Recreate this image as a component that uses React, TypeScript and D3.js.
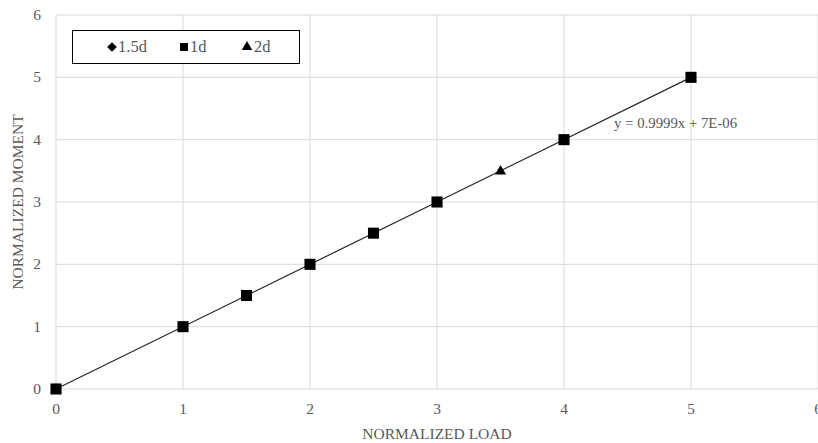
import { useMemo } from "react";
import * as d3 from "d3";

const W = 818;
const H = 443;
const MARGIN = { top: 15, right: 0, bottom: 54, left: 56 };

const X_TICKS = [0, 1, 2, 3, 4, 5, 6];
const Y_TICKS = [0, 1, 2, 3, 4, 5, 6];

// series values (most markers sit on top of each other)
const LOAD_15D = [0, 1, 2, 3, 4, 5];
const MOMENT_15D = [0, 1, 2, 3, 4, 5];
const LOAD_1D = [0, 1, 1.5, 2, 2.5, 3, 4, 5];
const MOMENT_1D = [0, 1, 1.5, 2, 2.5, 3, 4, 5];
const LOAD_2D = [0, 1, 2, 3, 3.5, 4, 5];
const MOMENT_2D = [0, 1, 2, 3, 3.5, 4, 5];

const TREND_SLOPE = 0.9999;
const TREND_INTERCEPT = 7e-6;
const TREND_RANGE = [0, 5];
const TREND_LABEL = "y = 0.9999x + 7E-06";

const SERIF = "'Liberation Serif', 'Times New Roman', serif";
const GRID = "#d9d9d9";
const TEXT = "#595959";

const zip = (xs: number[], ys: number[]) => xs.map((x, i) => ({ x, y: ys[i] }));

export default function App() {
  const boundsWidth = W - MARGIN.left - MARGIN.right;
  const boundsHeight = H - MARGIN.top - MARGIN.bottom;

  const xScale = useMemo(
    () => d3.scaleLinear().domain([0, 6]).range([MARGIN.left, MARGIN.left + boundsWidth]),
    [boundsWidth]
  );
  const yScale = useMemo(
    () => d3.scaleLinear().domain([0, 6]).range([MARGIN.top + boundsHeight, MARGIN.top]),
    [boundsHeight]
  );

  const trend = d3
    .line<number>()
    .x((d) => xScale(d))
    .y((d) => yScale(TREND_SLOPE * d + TREND_INTERCEPT))(TREND_RANGE);

  const diamond = d3.symbol(d3.symbolDiamond2, 60)()!;
  const square = d3.symbol(d3.symbolSquare2, 156)()!;
  const triangle = d3.symbol(d3.symbolTriangle2, 88)()!;

  const s15 = zip(LOAD_15D, MOMENT_15D);
  const s1 = zip(LOAD_1D, MOMENT_1D);
  const s2 = zip(LOAD_2D, MOMENT_2D);

  return (
    <svg
      width={W}
      height={H}
      style={{ position: "absolute", left: 0, top: 0, background: "#fff" }}
      fontFamily={SERIF}
    >
      {/* grid */}
      {X_TICKS.map((t) => (
        <line key={"gx" + t} x1={xScale(t)} x2={xScale(t)} y1={yScale(6)} y2={yScale(0)} stroke={GRID} strokeWidth={1} />
      ))}
      {Y_TICKS.map((t) => (
        <line key={"gy" + t} x1={xScale(0)} x2={xScale(6)} y1={yScale(t)} y2={yScale(t)} stroke={GRID} strokeWidth={1} />
      ))}

      {/* tick labels */}
      {X_TICKS.map((t) => (
        <text key={"tx" + t} x={xScale(t)} y={yScale(0) + 25} textAnchor="middle" fontSize={15.5} fill={TEXT}>
          {t}
        </text>
      ))}
      {Y_TICKS.map((t) => (
        <text key={"ty" + t} x={xScale(0) - 15} y={yScale(t) + 5} textAnchor="end" fontSize={15.5} fill={TEXT}>
          {t}
        </text>
      ))}

      {/* axis titles */}
      <text x={xScale(3)} y={439} textAnchor="middle" fontSize={15.5} fill={TEXT}>
        NORMALIZED LOAD
      </text>
      <text
        transform={`translate(23,${yScale(3)}) rotate(-90)`}
        textAnchor="middle"
        fontSize={15.5}
        fill={TEXT}
      >
        NORMALIZED MOMENT
      </text>

      {/* trendline */}
      <path d={trend || ""} fill="none" stroke="#262626" strokeWidth={1.2} />
      <text x={614} y={128} fontSize={14.8} fill={TEXT}>
        {TREND_LABEL}
      </text>

      {/* markers */}
      {s15.map((d, i) => (
        <path key={"d" + i} d={diamond} transform={`translate(${xScale(d.x)},${yScale(d.y)})`} fill="#000" />
      ))}
      {s2.map((d, i) => (
        <path key={"t" + i} d={triangle} transform={`translate(${xScale(d.x)},${yScale(d.y) + 0.5})`} fill="#000" />
      ))}
      {s1.map((d, i) => (
        <path key={"s" + i} d={square} transform={`translate(${xScale(d.x)},${yScale(d.y)})`} fill="#000" />
      ))}

      {/* legend */}
      <g>
        <rect x={72.5} y={30.5} width={227} height={33} fill="#fff" stroke="#000" strokeWidth={1} />
        <path d={diamond} transform="translate(112,47)" fill="#000" />
        <text x={118} y={52} fontSize={16.5} fill={TEXT}>1.5d</text>
        <path d={d3.symbol(d3.symbolSquare2, 80)()!} transform="translate(184,47)" fill="#000" />
        <text x={190} y={52} fontSize={16.5} fill={TEXT}>1d</text>
        <path d={d3.symbol(d3.symbolTriangle2, 80)()!} transform="translate(247,47)" fill="#000" />
        <text x={254} y={52} fontSize={16.5} fill={TEXT}>2d</text>
      </g>
    </svg>
  );
}
